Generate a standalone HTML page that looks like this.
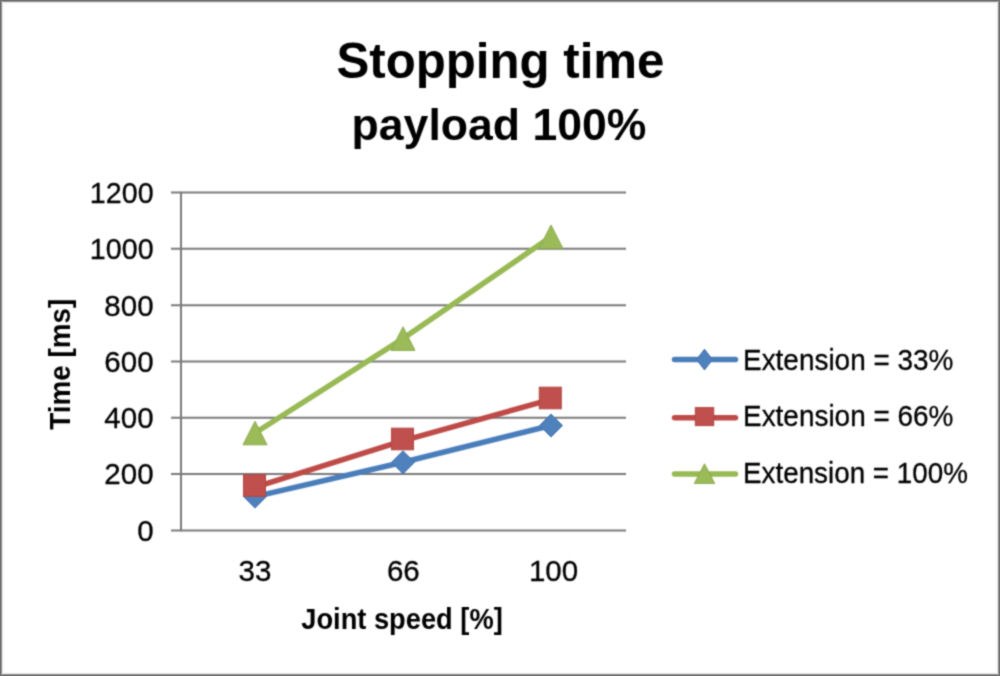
<!DOCTYPE html><html><head><meta charset="utf-8"><style>html,body{margin:0;padding:0;background:#fff;}svg{display:block;}#w{width:1000px;height:676px;will-change:transform;}text{font-family:"Liberation Sans",sans-serif;fill:#000;}</style></head><body>
<div id="w">
<svg width="1000" height="676" viewBox="0 0 1000 676">
<defs><filter id="bl" x="0" y="0" width="1000" height="676" filterUnits="userSpaceOnUse" color-interpolation-filters="sRGB"><feConvolveMatrix order="3" kernelMatrix="1 2 1 2 8 2 1 2 1" edgeMode="duplicate"/></filter></defs><g filter="url(#bl)">
<rect x="0" y="0" width="1000" height="676" fill="#fff"/>
<path d="M171 192.50H626M171 248.82H626M171 305.13H626M171 361.45H626M171 417.77H626M171 474.08H626M171 530.40H626" stroke="#7a7a7a" stroke-width="2.0" fill="none"/>
<path d="M181 191.70V531.20" stroke="#7a7a7a" stroke-width="2.0" fill="none"/>
<path d="M255.00 496.60L403.00 462.30L551.00 425.50" stroke="#4A7EBB" stroke-width="5.5" fill="none" stroke-linecap="round" stroke-linejoin="round"/>
<path d="M255.00 485.10L266.50 496.60L255.00 508.10L243.50 496.60Z" fill="#4F81BD" stroke="#4372AE" stroke-width="1"/>
<path d="M403.00 450.80L414.50 462.30L403.00 473.80L391.50 462.30Z" fill="#4F81BD" stroke="#4372AE" stroke-width="1"/>
<path d="M551.00 414.00L562.50 425.50L551.00 437.00L539.50 425.50Z" fill="#4F81BD" stroke="#4372AE" stroke-width="1"/>
<path d="M254.50 487.40L402.50 440.80L550.30 399.60" stroke="#BE4B48" stroke-width="5.5" fill="none" stroke-linecap="round" stroke-linejoin="round"/>
<rect x="243.50" y="474.70" width="22.00" height="21.60" fill="#C0504D" stroke="#B04542" stroke-width="1"/>
<rect x="391.50" y="428.20" width="22.00" height="21.60" fill="#C0504D" stroke="#B04542" stroke-width="1"/>
<rect x="539.30" y="387.20" width="22.00" height="21.60" fill="#C0504D" stroke="#B04542" stroke-width="1"/>
<path d="M255.00 433.00L403.00 338.60L551.00 236.80" stroke="#98B954" stroke-width="5.5" fill="none" stroke-linecap="round" stroke-linejoin="round"/>
<path d="M255.00 421.20L267.00 444.80L243.00 444.80Z" fill="#9BBB59" stroke="#8CAA4E" stroke-width="1" stroke-linejoin="miter"/>
<path d="M403.00 326.80L415.00 350.40L391.00 350.40Z" fill="#9BBB59" stroke="#8CAA4E" stroke-width="1" stroke-linejoin="miter"/>
<path d="M551.00 225.00L563.00 248.60L539.00 248.60Z" fill="#9BBB59" stroke="#8CAA4E" stroke-width="1" stroke-linejoin="miter"/>
<path d="M674.5 359.4H735.5" stroke="#4A7EBB" stroke-width="5.5" stroke-linecap="round"/>
<path d="M704.50 349.20L712.50 359.60L704.50 370.00L696.50 359.60Z" fill="#4F81BD" stroke="#4372AE" stroke-width="1"/>
<path d="M674.5 417.8H735.5" stroke="#BE4B48" stroke-width="5.5" stroke-linecap="round"/>
<rect x="695.30" y="407.60" width="18.40" height="18.00" fill="#C0504D" stroke="#B04542" stroke-width="1"/>
<path d="M674.5 474H735.5" stroke="#98B954" stroke-width="5.5" stroke-linecap="round"/>
<path d="M704.50 463.80L714.70 483.40L694.30 483.40Z" fill="#9BBB59" stroke="#8CAA4E" stroke-width="1" stroke-linejoin="miter"/>
<text x="500.50" y="78.00" font-size="50" font-weight="bold" text-anchor="middle" textLength="328.00" lengthAdjust="spacingAndGlyphs">Stopping time</text>
<text x="499.00" y="139.50" font-size="45" font-weight="bold" text-anchor="middle" textLength="294.80" lengthAdjust="spacingAndGlyphs">payload 100%</text>
<text x="402.00" y="629.00" font-size="29.5" font-weight="bold" text-anchor="middle" textLength="201.50" lengthAdjust="spacingAndGlyphs">Joint speed [%]</text>
<text x="153.60" y="202.80" font-size="29.5" stroke="#000" stroke-width="0.3" stroke-linejoin="round" text-anchor="end" textLength="63.80" lengthAdjust="spacingAndGlyphs">1200</text>
<text x="153.60" y="259.10" font-size="29.5" stroke="#000" stroke-width="0.3" stroke-linejoin="round" text-anchor="end" textLength="63.80" lengthAdjust="spacingAndGlyphs">1000</text>
<text x="153.60" y="315.50" font-size="29.5" stroke="#000" stroke-width="0.3" stroke-linejoin="round" text-anchor="end">800</text>
<text x="153.60" y="371.80" font-size="29.5" stroke="#000" stroke-width="0.3" stroke-linejoin="round" text-anchor="end">600</text>
<text x="153.60" y="428.10" font-size="29.5" stroke="#000" stroke-width="0.3" stroke-linejoin="round" text-anchor="end">400</text>
<text x="153.60" y="484.40" font-size="29.5" stroke="#000" stroke-width="0.3" stroke-linejoin="round" text-anchor="end">200</text>
<text x="153.60" y="540.70" font-size="29.5" stroke="#000" stroke-width="0.3" stroke-linejoin="round" text-anchor="end">0</text>
<text x="254.90" y="581.30" font-size="29.5" stroke="#000" stroke-width="0.3" stroke-linejoin="round" text-anchor="middle">33</text>
<text x="403.30" y="581.30" font-size="29.5" stroke="#000" stroke-width="0.3" stroke-linejoin="round" text-anchor="middle">66</text>
<text x="553.50" y="581.30" font-size="29.5" stroke="#000" stroke-width="0.3" stroke-linejoin="round" text-anchor="middle">100</text>
<text x="743.00" y="369.50" font-size="30" stroke="#000" stroke-width="0.3" stroke-linejoin="round" text-anchor="start" textLength="210.40" lengthAdjust="spacingAndGlyphs">Extension = 33%</text>
<text x="743.00" y="426.00" font-size="30" stroke="#000" stroke-width="0.3" stroke-linejoin="round" text-anchor="start" textLength="210.40" lengthAdjust="spacingAndGlyphs">Extension = 66%</text>
<text x="743.00" y="482.80" font-size="30" stroke="#000" stroke-width="0.3" stroke-linejoin="round" text-anchor="start" textLength="224.90" lengthAdjust="spacingAndGlyphs">Extension = 100%</text>
</g>
<g filter="url(#bl)">
<text x="70.30" y="364.20" font-size="29.5" font-weight="bold" text-anchor="middle" textLength="131.00" lengthAdjust="spacingAndGlyphs" transform="rotate(-90 70.3 364.2)">Time [ms]</text>
</g>
<rect x="0.5" y="0.5" width="999" height="675" fill="none" stroke="#707070" stroke-width="1"/>
<rect x="1.5" y="1.5" width="997" height="673" fill="none" stroke="#999999" stroke-width="1"/>
<rect x="2.5" y="2.5" width="995" height="671" fill="none" stroke="#dedede" stroke-width="1"/>
<rect x="3.5" y="3.5" width="993" height="669" fill="none" stroke="#f8f8f8" stroke-width="1"/>
</svg></div></body></html>
